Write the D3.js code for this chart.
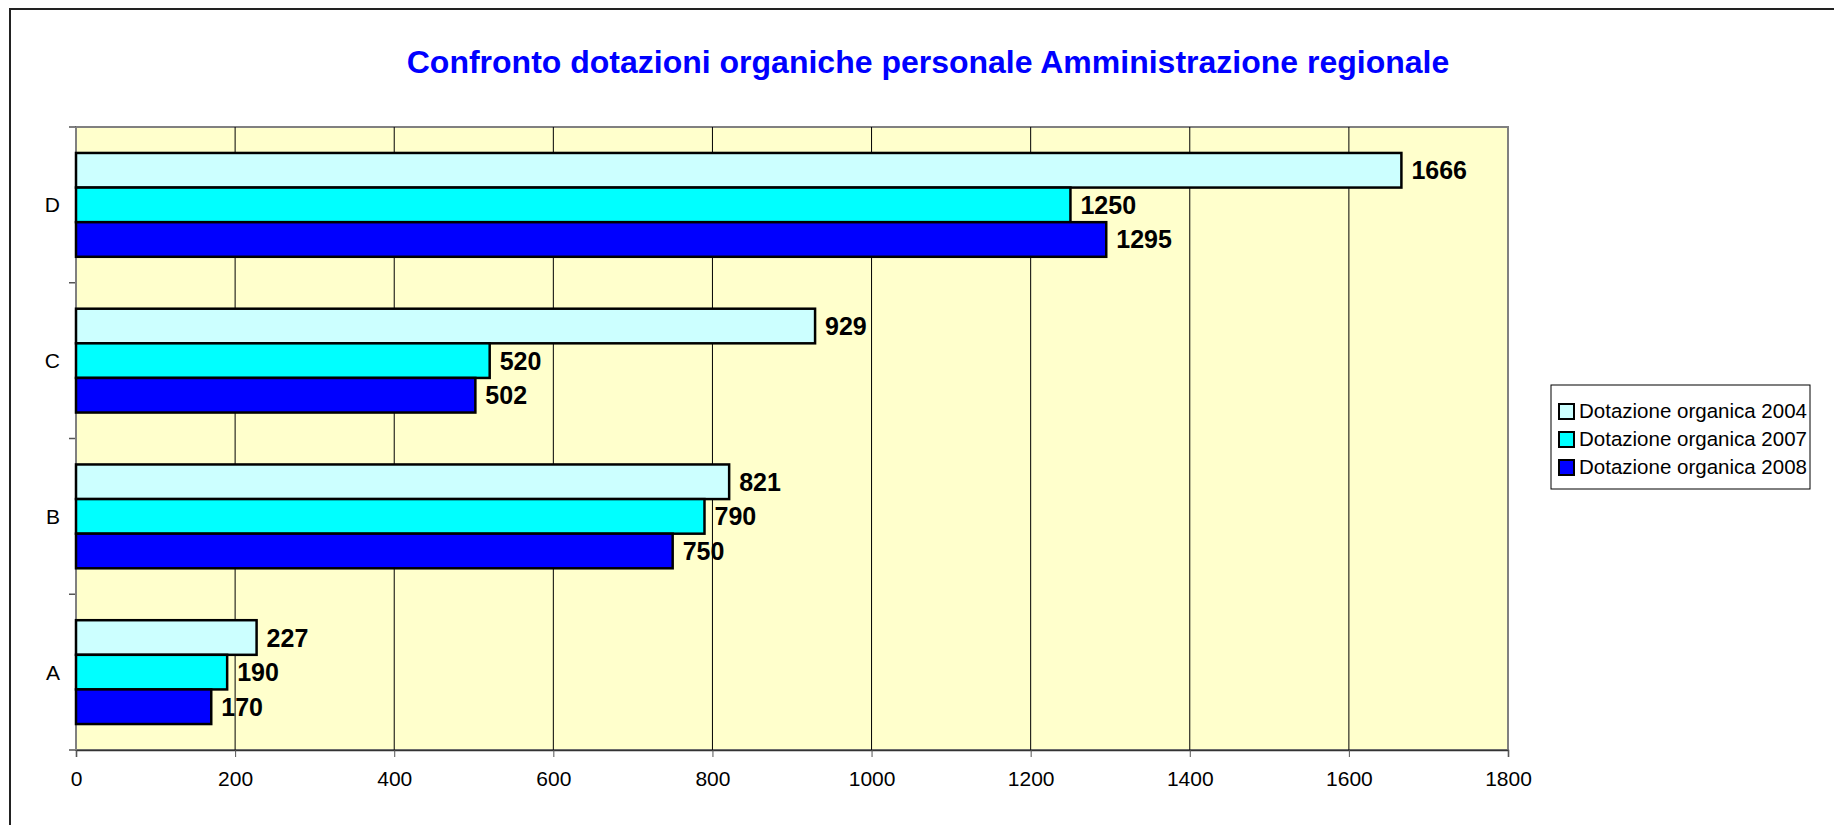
<!DOCTYPE html>
<html>
<head>
<meta charset="utf-8">
<script src="https://cdn.jsdelivr.net/npm/d3@7"></script>
<style>
  html, body { margin: 0; padding: 0; background: #fff; }
  svg { display: block; font-family: Arial, "Liberation Sans", sans-serif; }
</style>
</head>
<body>
<svg id="chart" width="1834" height="825"></svg>
<script>
  // data
  var categories = ['A', 'B', 'C', 'D'];
  var seriesNames = ['Dotazione organica 2004', 'Dotazione organica 2007', 'Dotazione organica 2008'];
  var values2004 = [227, 821, 929, 1666];
  var values2007 = [190, 790, 520, 1250];
  var values2008 = [170, 750, 502, 1295];
  var xTicks = [0, 200, 400, 600, 800, 1000, 1200, 1400, 1600, 1800];
  var seriesColors = ['#CCFFFF', '#00FFFF', '#0000FF'];
  var title = 'Confronto dotazioni organiche personale Amministrazione regionale';

  var allValues = [values2004, values2007, values2008];
  var rows = [];
  categories.forEach(function(c, i) {
    seriesNames.forEach(function(s, j) {
      rows.push({ cat: c, series: s, idx: j, value: allValues[j][i] });
    });
  });

  var plot = { left: 76, top: 127, right: 1508, bottom: 750 };
  var svg = d3.select('#chart');

  // outer chart frame (runs off the right and bottom edges)
  svg.append('rect')
    .attr('x', 10).attr('y', 9)
    .attr('width', 1840).attr('height', 840)
    .attr('fill', '#fff').attr('stroke', '#222').attr('stroke-width', 2);

  svg.append('text')
    .attr('x', 928).attr('y', 73)
    .attr('text-anchor', 'middle')
    .attr('font-size', 32).attr('font-weight', 'bold')
    .attr('fill', '#0000FF')
    .text(title);

  var x = d3.scaleLinear().domain([0, 1800]).range([plot.left, plot.right]);
  var y0 = d3.scaleBand().domain(categories.slice().reverse()).range([plot.top, plot.bottom]).padding(0);
  var y1 = d3.scaleBand().domain(seriesNames).range([0, y0.bandwidth()]).paddingInner(0).paddingOuter(0.75);

  // plot area
  svg.append('rect')
    .attr('x', plot.left).attr('y', plot.top)
    .attr('width', plot.right - plot.left).attr('height', plot.bottom - plot.top)
    .attr('fill', '#FFFFCC').attr('stroke', '#808080').attr('stroke-width', 2);

  // vertical gridlines
  svg.append('g').selectAll('line')
    .data(xTicks.filter(function(t) { return t > 0 && t < 1800; }))
    .enter().append('line')
    .attr('x1', function(d) { return x(d); }).attr('x2', function(d) { return x(d); })
    .attr('y1', plot.top).attr('y2', plot.bottom)
    .attr('stroke', '#000').attr('stroke-width', 1);

  // x axis
  var xAxis = svg.append('g')
    .attr('transform', 'translate(0,' + plot.bottom + ')')
    .call(d3.axisBottom(x).tickValues(xTicks).tickSize(7).tickPadding(14).tickFormat(d3.format('d')));
  xAxis.select('.domain').attr('stroke', '#333').attr('stroke-width', 1.5);
  xAxis.selectAll('.tick line').attr('stroke', '#555');
  xAxis.selectAll('text').attr('font-size', 21).attr('fill', '#000')
    .attr('font-family', 'Arial, "Liberation Sans", sans-serif');

  // y axis: ticks sit on the category boundaries
  var bounds = categories.map(function(c) { return y0(c); }).concat([plot.bottom]);
  svg.append('g').selectAll('line').data(bounds).enter().append('line')
    .attr('x1', plot.left - 7).attr('x2', plot.left)
    .attr('y1', function(d) { return d; }).attr('y2', function(d) { return d; })
    .attr('stroke', '#555').attr('stroke-width', 1.5);
  svg.append('line')
    .attr('x1', plot.left).attr('x2', plot.left)
    .attr('y1', plot.top).attr('y2', plot.bottom)
    .attr('stroke', '#808080').attr('stroke-width', 2);
  svg.append('g').selectAll('text').data(categories).enter().append('text')
    .attr('x', 60)
    .attr('y', function(d) { return y0(d) + y0.bandwidth() / 2; })
    .attr('dy', '0.36em')
    .attr('text-anchor', 'end')
    .attr('font-size', 21)
    .text(function(d) { return d; });

  // bars
  svg.append('g').selectAll('rect').data(rows).enter().append('rect')
    .attr('x', x(0))
    .attr('y', function(d) { return y0(d.cat) + y1(d.series); })
    .attr('width', function(d) { return x(d.value) - x(0); })
    .attr('height', y1.bandwidth())
    .attr('fill', function(d) { return seriesColors[d.idx]; })
    .attr('stroke', '#000').attr('stroke-width', 2.5);

  // value labels
  svg.append('g').selectAll('text').data(rows).enter().append('text')
    .attr('x', function(d) { return x(d.value) + 10; })
    .attr('y', function(d) { return y0(d.cat) + y1(d.series) + y1.bandwidth() / 2; })
    .attr('dy', '0.36em')
    .attr('font-size', 25).attr('font-weight', 'bold')
    .text(function(d) { return d.value; });

  // legend
  var legend = svg.append('g').attr('transform', 'translate(1551,385)');
  legend.append('rect')
    .attr('width', 259).attr('height', 104)
    .attr('fill', '#fff').attr('stroke', '#000').attr('stroke-width', 1);
  var item = legend.selectAll('g.item').data(seriesNames).enter().append('g')
    .attr('class', 'item')
    .attr('transform', function(d, i) { return 'translate(0,' + (26 + i * 28) + ')'; });
  item.append('rect')
    .attr('x', 8).attr('y', -7).attr('width', 15).attr('height', 15)
    .attr('fill', function(d, i) { return seriesColors[i]; })
    .attr('stroke', '#000').attr('stroke-width', 2);
  item.append('text')
    .attr('x', 28).attr('dy', '0.36em')
    .attr('font-size', 20.5)
    .text(function(d) { return d; });
</script>
</body>
</html>
